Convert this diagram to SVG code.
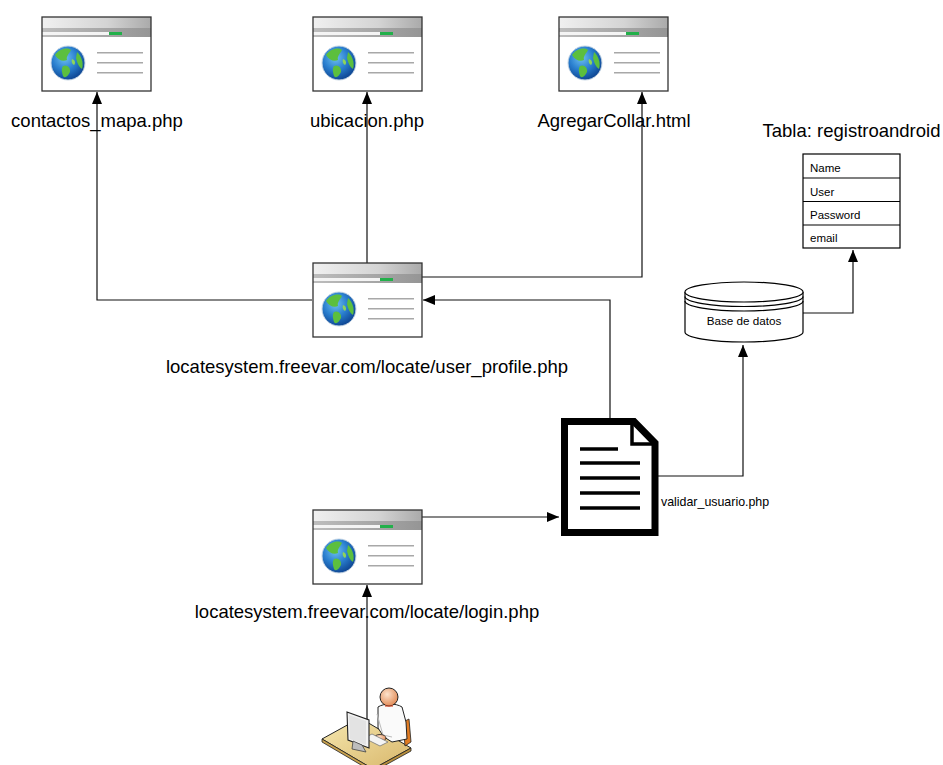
<svg xmlns="http://www.w3.org/2000/svg" xmlns:xlink="http://www.w3.org/1999/xlink" width="943" height="765" viewBox="0 0 943 765">
  <style>
    .lbl { font-family: "Liberation Sans", Arial, sans-serif; font-size: 18.5px; fill: #000; }
    .sm { font-family: "Liberation Sans", Arial, sans-serif; font-size: 11.5px; fill: #000; }
    .conn { fill: none; stroke: #111; stroke-width: 1.2; }
    .doc { fill: #fff; stroke: #000; stroke-width: 7; stroke-linejoin: miter; }
    .docln { stroke: #000; stroke-width: 3.5; }
    .tbl { fill: #fff; stroke: #000; stroke-width: 1.2; }
    .db { fill: #fff; stroke: #000; stroke-width: 1.2; }
  </style>
  <defs>
    <marker id="arrow" viewBox="0 0 12 10" refX="12" refY="5" markerWidth="12" markerHeight="10" markerUnits="userSpaceOnUse" orient="auto">
      <path d="M0,0 L12,5 L0,10 Z" fill="#000"/>
    </marker>
    <linearGradient id="hdrTop" x1="0" y1="0" x2="1" y2="0">
      <stop offset="0" stop-color="#f0f0f0"/>
      <stop offset="0.6" stop-color="#d4d4d4"/>
      <stop offset="1" stop-color="#aaaaaa"/>
    </linearGradient>
    <linearGradient id="hdrBand" x1="0" y1="0" x2="1" y2="0">
      <stop offset="0" stop-color="#bdbdbd"/>
      <stop offset="1" stop-color="#959595"/>
    </linearGradient>
    <radialGradient id="globeBlue" cx="0.4" cy="0.35" r="0.7">
      <stop offset="0" stop-color="#6ec0f0"/>
      <stop offset="0.5" stop-color="#2a7fcf"/>
      <stop offset="1" stop-color="#0b3f8c"/>
    </radialGradient>
    <radialGradient id="skin" cx="0.4" cy="0.35" r="0.7">
      <stop offset="0" stop-color="#fde3cc"/>
      <stop offset="1" stop-color="#e08650"/>
    </radialGradient>
    <linearGradient id="deskTop" x1="0" y1="0" x2="1" y2="1">
      <stop offset="0" stop-color="#f6e8b0"/>
      <stop offset="1" stop-color="#d8b66a"/>
    </linearGradient>

    <!-- browser window icon, 109 x 74 -->
    <g id="browserWin">
      <rect x="0" y="0" width="109" height="74" fill="#fff"/>
      <rect x="0" y="0" width="109" height="11" fill="url(#hdrTop)"/>
      <rect x="0" y="11" width="109" height="9" fill="url(#hdrBand)"/>
      <rect x="0" y="15" width="67" height="3" fill="#f4f4f4"/>
      <rect x="67" y="15" width="13" height="3" fill="#22b04a"/>
      <g transform="translate(26,46)">
        <circle r="17" fill="url(#globeBlue)" stroke="#c9d8e6" stroke-width="1"/>
        <path d="M-13,-8 C-9,-14 -1,-16 3,-13 C1,-9 -2,-7 -1,-3 C-5,-1 -10,-3 -13,-8 Z" fill="#5cbf3e"/>
        <path d="M-5,3 C-1,1 3,5 2,9 C0,13 -3,16 -5,13 C-6,9 -7,6 -5,3 Z" fill="#5cbf3e"/>
        <path d="M9,-11 C13,-7 16,-1 14,6 C11,4 9,0 8,-5 Z" fill="#5cbf3e"/>
        <path d="M4,-4 C7,-3 8,0 6,2 C4,1 3,-2 4,-4 Z" fill="#8fd45a"/>
      </g>
      <line x1="55" y1="35.7" x2="101" y2="35.7" stroke="#a8a8a8" stroke-width="1.5"/>
      <line x1="55" y1="45.7" x2="101" y2="45.7" stroke="#a8a8a8" stroke-width="1.5"/>
      <line x1="55" y1="55.7" x2="101" y2="55.7" stroke="#a8a8a8" stroke-width="1.5"/>
      <rect x="0" y="0" width="109" height="74" fill="none" stroke="#333" stroke-width="1.3"/>
    </g>
  </defs>

  <rect width="943" height="765" fill="#fff"/>

  <!-- connectors -->
  <g id="connectors">
    <polyline class="conn" points="312,300 97,300 97,92" marker-end="url(#arrow)"/>
    <polyline class="conn" points="367,263 367,92" marker-end="url(#arrow)"/>
    <polyline class="conn" points="422,277 642,277 642,92" marker-end="url(#arrow)"/>
    <polyline class="conn" points="610,418 610,300 423,300" marker-end="url(#arrow)"/>
    <polyline class="conn" points="422,517 559,517" marker-end="url(#arrow)"/>
    <polyline class="conn" points="658,476 743,476 743,345" marker-end="url(#arrow)"/>
    <polyline class="conn" points="803,313 853,313 853,250" marker-end="url(#arrow)"/>
    <polyline class="conn" points="367,722 367,585" marker-end="url(#arrow)"/>
  </g>

  <g id="contactos_mapa">
    <use xlink:href="#browserWin" x="42" y="17"/>
    <text class="lbl" x="97" y="127" text-anchor="middle">contactos_mapa.php</text>
  </g>

  <g id="ubicacion">
    <use xlink:href="#browserWin" x="313" y="17"/>
    <text class="lbl" x="367" y="127" text-anchor="middle">ubicacion.php</text>
  </g>

  <g id="agregar_collar">
    <use xlink:href="#browserWin" x="559" y="17"/>
    <text class="lbl" x="614" y="127" text-anchor="middle">AgregarCollar.html</text>
  </g>

  <g id="user_profile">
    <use xlink:href="#browserWin" x="313" y="263"/>
    <text class="lbl" x="367" y="373" text-anchor="middle">locatesystem.freevar.com/locate/user_profile.php</text>
  </g>

  <g id="login">
    <use xlink:href="#browserWin" x="313" y="510"/>
    <text class="lbl" x="367" y="618" text-anchor="middle">locatesystem.freevar.com/locate/login.php</text>
  </g>

  <g id="validar_usuario">
    <path class="doc" d="M564.5,421.5 L634,421.5 L655,443 L655,532.5 L564.5,532.5 Z"/>
    <path d="M632,421.5 L632,444 L655,444" fill="none" stroke="#000" stroke-width="3.5"/>
    <line class="docln" x1="580" y1="449" x2="618" y2="449"/>
    <line class="docln" x1="580" y1="463" x2="640" y2="463"/>
    <line class="docln" x1="580" y1="478" x2="640" y2="478"/>
    <line class="docln" x1="580" y1="493" x2="640" y2="493"/>
    <line class="docln" x1="580" y1="508" x2="640" y2="508"/>
    <text class="sm" x="661" y="506" style="font-size:12.4px">validar_usuario.php</text>
  </g>

  <g id="base_de_datos">
    <path class="db" d="M685,292 L685,332 A59,10 0 0 0 803,332 L803,292"/>
    <ellipse class="db" cx="744" cy="292" rx="59" ry="10"/>
    <path d="M685,296.5 A59,10 0 0 0 803,296.5" fill="none" stroke="#000" stroke-width="1.2"/>
    <path d="M685,301 A59,10 0 0 0 803,301" fill="none" stroke="#000" stroke-width="1.2"/>
    <text class="sm" x="744" y="325" text-anchor="middle" style="font-size:11.7px">Base de datos</text>
  </g>

  <g id="registroandroid">
    <text class="lbl" x="851.5" y="137" text-anchor="middle">Tabla: registroandroid</text>
    <rect class="tbl" x="803" y="154" width="97" height="94"/>
    <line x1="803" y1="178" x2="900" y2="178" stroke="#000" stroke-width="1.2"/>
    <line x1="803" y1="201.5" x2="900" y2="201.5" stroke="#000" stroke-width="1.2"/>
    <line x1="803" y1="225" x2="900" y2="225" stroke="#000" stroke-width="1.2"/>
    <text class="sm" x="810" y="172">Name</text>
    <text class="sm" x="810" y="195.5">User</text>
    <text class="sm" x="810" y="218.5">Password</text>
    <text class="sm" x="810" y="242">email</text>
  </g>

  <g id="usuario">
    <!-- desk -->
    <polygon points="322,739 360,718 411,748 373,769" fill="url(#deskTop)" stroke="#222" stroke-width="1"/>
    <polygon points="322,739 373,769 373,772 322,742" fill="#c9a24e" stroke="#222" stroke-width="0.8"/>
    <polygon points="373,769 411,748 411,751 373,772" fill="#b88f3c" stroke="#222" stroke-width="0.8"/>
    <!-- chair -->
    <polygon points="403,722 409,719 411,742 405,746" fill="#e07b22" stroke="#222" stroke-width="0.8"/>
    <!-- person body -->
    <path d="M378,707 C384,703 396,703 402,707 L406,722 L407,739 L392,742 L384,737 L378,728 Z" fill="#fafafa" stroke="#222" stroke-width="1"/>
    <path d="M377,714 L383,735 L392,737" fill="none" stroke="#bbb" stroke-width="1"/>
    <!-- hand -->
    <ellipse cx="380" cy="738" rx="6" ry="3.5" fill="url(#skin)" stroke="#222" stroke-width="0.8"/>
    <!-- keyboard -->
    <polygon points="364,738 372,734 388,742 380,746" fill="#f4f4f4" stroke="#777" stroke-width="0.8"/>
    <!-- head -->
    <circle cx="389" cy="697" r="9" fill="url(#skin)" stroke="#222" stroke-width="1"/>
    <line x1="385" y1="706" x2="393" y2="706" stroke="#e0502a" stroke-width="1.2"/>
    <!-- monitor -->
    <polygon points="347,712 369,720 369,748 348,740" fill="#f2f2f2" stroke="#222" stroke-width="1.1"/>
    <polygon points="349,715 366,721 366,745 350,739" fill="#e3e3e3"/>
    <polygon points="353,741 362,745 366,752 352,749" fill="#bdbdbd" stroke="#444" stroke-width="0.8"/>
  </g>
</svg>
